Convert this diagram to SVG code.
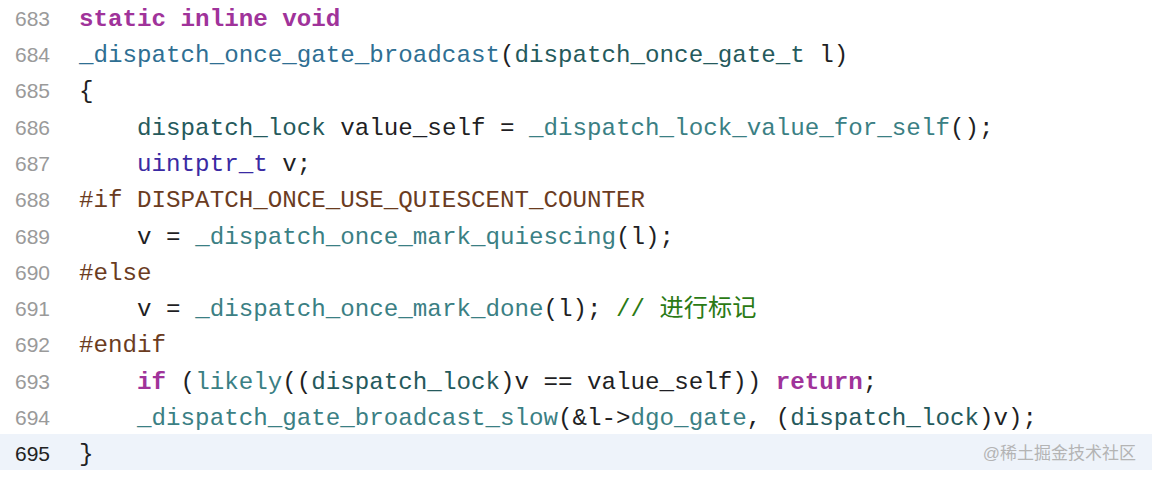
<svg xmlns="http://www.w3.org/2000/svg" width="1152" height="478" viewBox="0 0 1152 478">
<style>
.n{font-family:"Liberation Sans","Noto Sans",sans-serif;font-size:21px;fill:#9a9a9a;text-anchor:end}
.c{font-family:"Liberation Mono","DejaVu Sans Mono","Noto Sans CJK SC",monospace;font-size:24.2px;fill:#1f1f24;white-space:pre}
.k{fill:#a0339a;font-weight:bold}
.f{fill:#2f6f93}
.g{fill:#3b7f84}
.t{fill:#255a5c}
.u{fill:#3a2aa3}
.p{fill:#6b3c1f}
.m{fill:#2b7a14;font-family:"Liberation Mono","Noto Sans CJK SC",monospace}
.w{font-family:"Liberation Sans","Noto Sans CJK SC",sans-serif;font-size:17px;fill:#b4b4b4;text-anchor:end}
</style>
<rect width="1152" height="478" fill="#ffffff"/>
<rect id="hl" x="0" y="434" width="1152" height="36" fill="#eef3fa"/>
<g id="numbers">
<text class="n" x="50" y="26">683</text>
<text class="n" x="50" y="62">684</text>
<text class="n" x="50" y="98">685</text>
<text class="n" x="50" y="135">686</text>
<text class="n" x="50" y="171">687</text>
<text class="n" x="50" y="207">688</text>
<text class="n" x="50" y="244">689</text>
<text class="n" x="50" y="280">690</text>
<text class="n" x="50" y="316">691</text>
<text class="n" x="50" y="352">692</text>
<text class="n" x="50" y="389">693</text>
<text class="n" x="50" y="425">694</text>
<text class="n" x="50" y="461" style="fill:#222">695</text>
</g>
<g id="code" xml:space="preserve">
<text class="c" x="79" y="26"><tspan class="k">static inline void</tspan></text>
<text class="c" x="79" y="62"><tspan class="f">_dispatch_once_gate_broadcast</tspan>(<tspan class="t">dispatch_once_gate_t</tspan> l)</text>
<text class="c" x="79" y="98">{</text>
<text class="c" x="79" y="135">    <tspan class="t">dispatch_lock</tspan> value_self = <tspan class="g">_dispatch_lock_value_for_self</tspan>();</text>
<text class="c" x="79" y="171">    <tspan class="u">uintptr_t</tspan> v;</text>
<text class="c" x="79" y="207"><tspan class="p">#if DISPATCH_ONCE_USE_QUIESCENT_COUNTER</tspan></text>
<text class="c" x="79" y="244">    v = <tspan class="g">_dispatch_once_mark_quiescing</tspan>(l);</text>
<text class="c" x="79" y="280"><tspan class="p">#else</tspan></text>
<text class="c" x="79" y="316">    v = <tspan class="g">_dispatch_once_mark_done</tspan>(l); <tspan class="m">// 进行标记</tspan></text>
<text class="c" x="79" y="352"><tspan class="p">#endif</tspan></text>
<text class="c" x="79" y="389">    <tspan class="k">if</tspan> (<tspan class="g">likely</tspan>((<tspan class="t">dispatch_lock</tspan>)v == value_self)) <tspan class="k">return</tspan>;</text>
<text class="c" x="79" y="425">    <tspan class="g">_dispatch_gate_broadcast_slow</tspan>(&amp;l-&gt;<tspan class="g">dgo_gate</tspan>, (<tspan class="t">dispatch_lock</tspan>)v);</text>
<text class="c" x="79" y="461">}</text>
</g>
<text class="w" x="1136" y="459">@稀土掘金技术社区</text>
</svg>
